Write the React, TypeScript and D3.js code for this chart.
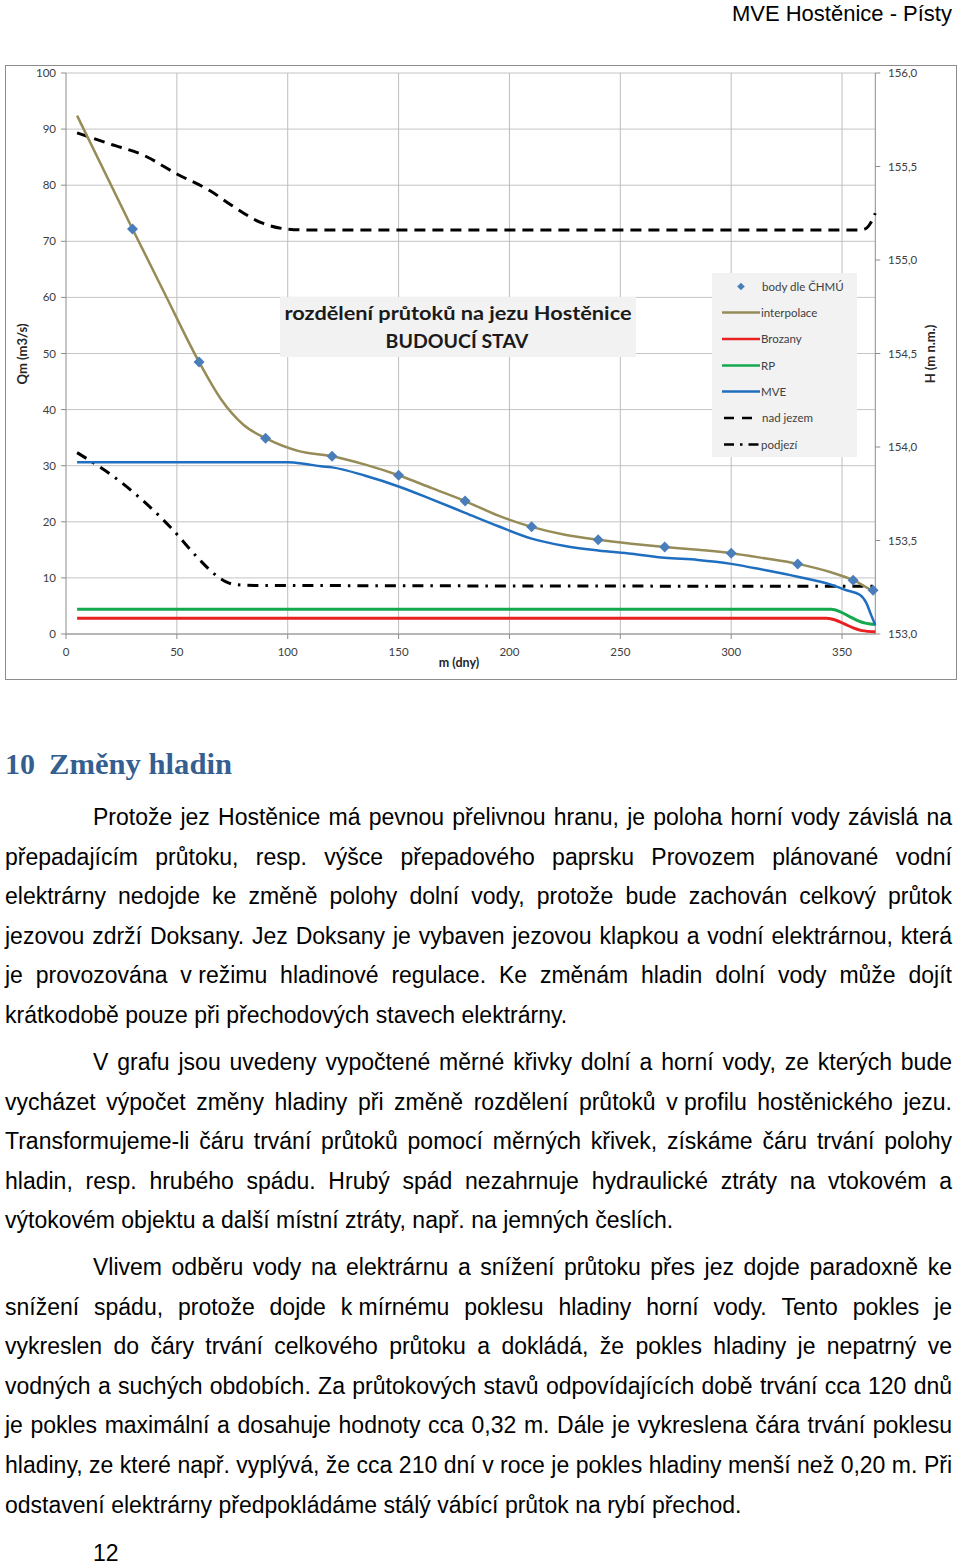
import React, { useMemo } from 'react';
import * as d3 from 'd3';

// ---------- chart data ----------
const X_TICKS = [0, 50, 100, 150, 200, 250, 300, 350];
const Q_TICKS = [0, 10, 20, 30, 40, 50, 60, 70, 80, 90, 100];
const H_TICKS = [153.0, 153.5, 154.0, 154.5, 155.0, 155.5, 156.0];

const CHMU_DAYS = [30, 60, 90, 120, 150, 180, 210, 240, 270, 300, 330, 355, 364];
const CHMU_Q = [72.2, 48.5, 34.9, 31.7, 28.3, 23.7, 19.1, 16.8, 15.5, 14.4, 12.5, 9.6, 7.8];

const INTERP_DAYS = [5, 30, 45, 60, 70, 80, 90, 105, 120, 135, 150, 165, 180, 195, 210, 225, 240, 255, 270, 285, 300, 315, 330, 345, 355, 364];
const INTERP_Q = [92.4, 72.2, 60.3, 48.5, 41.8, 37.3, 34.9, 32.6, 31.7, 30.2, 28.3, 26.0, 23.7, 21.1, 19.1, 17.7, 16.8, 16.1, 15.5, 15.0, 14.4, 13.5, 12.5, 11.0, 9.6, 7.6];

const MVE_DAYS = [5, 100, 108, 115, 120, 135, 150, 165, 180, 195, 210, 225, 240, 255, 270, 285, 300, 315, 330, 345, 352, 358, 361, 363, 365];
const MVE_Q = [30.6, 30.6, 30.3, 29.9, 29.7, 28.2, 26.3, 24.0, 21.6, 19.2, 17.0, 15.7, 14.9, 14.3, 13.6, 13.2, 12.5, 11.4, 10.2, 8.8, 7.8, 7.0, 5.5, 3.5, 1.6];

const BROZANY_DAYS = [5, 343, 347, 351, 355, 359, 365];
const BROZANY_Q = [2.8, 2.8, 2.5, 1.8, 1.1, 0.6, 0.4];

const RP_DAYS = [5, 345, 349, 353, 357, 361, 365];
const RP_Q = [4.4, 4.4, 4.0, 3.2, 2.4, 1.9, 1.7];

const NAD_DAYS = [5, 20, 35, 50, 65, 75, 88, 100, 110, 358, 361, 363, 365];
const NAD_H = [155.68, 155.62, 155.56, 155.46, 155.37, 155.29, 155.2, 155.165, 155.16, 155.16, 155.17, 155.2, 155.25];

const POD_DAYS = [5, 25, 48, 60, 67, 72, 76, 85, 365];
const POD_H = [153.97, 153.81, 153.56, 153.4, 153.32, 153.28, 153.265, 153.26, 153.255];

const LEGEND_LABELS = ['body dle ČHMÚ', 'interpolace', 'Brozany', 'RP', 'MVE', 'nad jezem', 'podjezí'];

// ---------- page text ----------
const HEADER = 'MVE Hostěnice - Písty';
const HEADING_NUM = '10';
const HEADING_TEXT = 'Změny hladin';
const P1 = [
  'Protože jez Hostěnice má pevnou přelivnou hranu, je poloha horní vody závislá na',
  'přepadajícím průtoku, resp. výšce přepadového paprsku Provozem plánované vodní',
  'elektrárny nedojde ke změně polohy dolní vody, protože bude zachován celkový průtok',
  'jezovou zdrží Doksany. Jez Doksany je vybaven jezovou klapkou a vodní elektrárnou, která',
  'je provozována v\u00a0režimu hladinové regulace. Ke změnám hladin dolní vody může dojít',
  'krátkodobě pouze při přechodových stavech elektrárny.',
];
const P2 = [
  'V grafu jsou uvedeny vypočtené měrné křivky dolní a horní vody, ze kterých bude',
  'vycházet výpočet změny hladiny při změně rozdělení průtoků v\u00a0profilu hostěnického jezu.',
  'Transformujeme-li čáru trvání průtoků pomocí měrných křivek, získáme čáru trvání polohy',
  'hladin, resp. hrubého spádu. Hrubý spád nezahrnuje hydraulické ztráty na vtokovém a',
  'výtokovém objektu a další místní ztráty, např. na jemných česlích.',
];
const P3 = [
  'Vlivem odběru vody na elektrárnu a snížení průtoku přes jez dojde paradoxně ke',
  'snížení spádu, protože dojde k\u00a0mírnému poklesu hladiny horní vody. Tento pokles je',
  'vykreslen do čáry trvání celkového průtoku a dokládá, že pokles hladiny je nepatrný ve',
  'vodných a suchých obdobích. Za průtokových stavů odpovídajících době trvání cca 120 dnů',
  'je pokles maximální a dosahuje hodnoty cca 0,32 m. Dále je vykreslena čára trvání poklesu',
  'hladiny, ze které např. vyplývá, že cca 210 dní v roce je pokles hladiny menší než 0,20 m. Při',
  'odstavení elektrárny předpokládáme stálý vábící průtok na rybí přechod.',
];
const PAGE_NUM = '12';

const BODY_FONT = '"Liberation Sans", Arial, sans-serif';
const CHART_FONT = 'Lato, "Open Sans", sans-serif';
const FS = 23;

function pairs(xs: number[], ys: number[]): [number, number][] {
  return xs.map((d, i) => [d, ys[i]] as [number, number]);
}

export default function App() {
  const x = d3.scaleLinear().domain([0, 365]).range([66, 875.3]);
  const yQ = d3.scaleLinear().domain([0, 100]).range([634, 73]);
  const yH = d3.scaleLinear().domain([153, 156]).range([634, 73]);

  const lineQ = d3.line<[number, number]>().x(d => x(d[0])).y(d => yQ(d[1])).curve(d3.curveMonotoneX);
  const lineH = d3.line<[number, number]>().x(d => x(d[0])).y(d => yH(d[1])).curve(d3.curveMonotoneX);

  const ctx = useMemo(() => {
    const c = document.createElement('canvas').getContext('2d');
    if (c) c.font = `${FS}px "Liberation Sans"`;
    return c;
  }, []);
  const mw = (s: string) => (ctx ? ctx.measureText(s).width : s.length * FS * 0.5);

  const renderPara = (lines: string[], y0: number, key: string) => {
    const step = 39.6;
    const right = 952;
    return lines.map((line, i) => {
      const left = i === 0 ? 93 : 5;
      const y = y0 + i * step;
      const isLast = i === lines.length - 1;
      if (isLast) {
        return (
          <text key={key + i} x={left} y={y} fontFamily={BODY_FONT} fontSize={FS} fill="#000">
            {line}
          </text>
        );
      }
      const words = line.split(' ');
      const widths = words.map(mw);
      const total = widths.reduce((a, b) => a + b, 0);
      const gap = words.length > 1 ? (right - left - total) / (words.length - 1) : 0;
      let cx = left;
      const xs = widths.map(w => {
        const p = cx;
        cx += w + gap;
        return p;
      });
      return (
        <text key={key + i} y={y} fontFamily={BODY_FONT} fontSize={FS} fill="#000" style={{ whiteSpace: 'pre' }}>
          {words.map((w, j) => (
            <tspan key={j} x={xs[j]}>{w}</tspan>
          ))}
        </text>
      );
    });
  };

  const diamond = (cx: number, cy: number, r: number, k: string) => (
    <path key={k} d={`M${cx},${cy - r}L${cx + r},${cy}L${cx},${cy + r}L${cx - r},${cy}Z`} fill="#4A7EBB" />
  );

  const legY = [286.5, 312.5, 339, 365.5, 391.5, 418, 444.5];
  const OLIVE = '#968C57';
  const BLUE = '#1F6EBF';
  const RED = '#E82020';
  const GREEN = '#16A84F';

  return (
    <svg width={960} height={1566} style={{ position: 'absolute', left: 0, top: 0, display: 'block', background: '#fff' }}>
      <rect x={0} y={0} width={960} height={1566} fill="#fff" />
      {/* header */}
      <text x={952} y={20.5} textAnchor="end" fontFamily={BODY_FONT} fontSize={22} fill="#000">{HEADER}</text>

      {/* chart frame */}
      <rect x={5.5} y={65.5} width={951} height={614} fill="#fff" stroke="#8C8C8C" strokeWidth={1} />

      {/* gridlines */}
      {Q_TICKS.map(t => (
        <line key={'hq' + t} x1={66} x2={875.3} y1={yQ(t)} y2={yQ(t)} stroke="#C4C4C4" strokeWidth={1} />
      ))}
      {X_TICKS.filter(t => t > 0).map(t => (
        <line key={'vx' + t} x1={x(t)} x2={x(t)} y1={73} y2={634} stroke="#BDBDBD" strokeWidth={1} />
      ))}
      {/* axes */}
      <line x1={66} x2={66} y1={73} y2={634} stroke="#8C8C8C" />
      <line x1={875.3} x2={875.3} y1={73} y2={634} stroke="#8C8C8C" />
      <line x1={66} x2={875.3} y1={634} y2={634} stroke="#8C8C8C" />
      {Q_TICKS.map(t => (
        <g key={'tq' + t}>
          <line x1={61} x2={66} y1={yQ(t)} y2={yQ(t)} stroke="#8C8C8C" />
          <text x={56} y={yQ(t) + 4} textAnchor="end" fontFamily={CHART_FONT} fontSize={11.5} fill="#404040">{t}</text>
        </g>
      ))}
      {H_TICKS.map(t => (
        <g key={'th' + t}>
          <line x1={875.3} x2={880.3} y1={yH(t)} y2={yH(t)} stroke="#8C8C8C" />
          <text x={888} y={yH(t) + 4} fontFamily={CHART_FONT} fontSize={11.5} fill="#404040">{t.toFixed(1).replace('.', ',')}</text>
        </g>
      ))}
      {X_TICKS.map(t => (
        <g key={'tx' + t}>
          <line x1={x(t)} x2={x(t)} y1={634} y2={639} stroke="#8C8C8C" />
          <text x={x(t)} y={655.5} textAnchor="middle" fontFamily={CHART_FONT} fontSize={11.5} fill="#404040">{t}</text>
        </g>
      ))}
      {/* axis titles */}
      <text transform="translate(27,354) rotate(-90)" textAnchor="middle" fontFamily={CHART_FONT} fontSize={13} fontWeight="bold" fill="#262626">Qm (m3/s)</text>
      <text transform="translate(935,354) rotate(-90)" textAnchor="middle" fontFamily={CHART_FONT} fontSize={13} fontWeight="bold" fill="#262626">H (m n.m.)</text>
      <text x={459} y={666.5} textAnchor="middle" fontFamily={CHART_FONT} fontSize={12.5} fontWeight="bold" fill="#262626">m (dny)</text>

      {/* title box */}
      <rect x={280} y={297} width={356} height={60} fill="#F2F2F2" />
      <text x={458} y={320} textAnchor="middle" fontFamily={CHART_FONT} fontSize={19.5} fontWeight="bold" fill="#1a1a1a" textLength={347} lengthAdjust="spacingAndGlyphs">rozdělení průtoků na jezu Hostěnice</text>
      <text x={457} y={348} textAnchor="middle" fontFamily={CHART_FONT} fontSize={19.5} fontWeight="bold" fill="#1a1a1a">BUDOUCÍ STAV</text>

      {/* series */}
      <path d={lineQ(pairs(BROZANY_DAYS, BROZANY_Q)) || ''} fill="none" stroke={RED} strokeWidth={3} />
      <path d={lineQ(pairs(RP_DAYS, RP_Q)) || ''} fill="none" stroke={GREEN} strokeWidth={3} />
      <path d={lineH(pairs(POD_DAYS, POD_H)) || ''} fill="none" stroke="#000" strokeWidth={3} strokeDasharray="11,7,2.5,7" />
      <path d={lineH(pairs(NAD_DAYS, NAD_H)) || ''} fill="none" stroke="#000" strokeWidth={3} strokeDasharray="11,7" />
      <path d={lineQ(pairs(MVE_DAYS, MVE_Q)) || ''} fill="none" stroke={BLUE} strokeWidth={2.5} />
      <path d={lineQ(pairs(INTERP_DAYS, INTERP_Q)) || ''} fill="none" stroke={OLIVE} strokeWidth={2.5} />
      {CHMU_DAYS.map((d, i) => diamond(x(d), yQ(CHMU_Q[i]), 5.5, 'dm' + i))}

      {/* legend */}
      <rect x={712} y={273} width={145} height={184} fill="#F2F2F2" />
      {diamond(741, legY[0], 3.8, 'legd')}
      <line x1={722} x2={760} y1={legY[1]} y2={legY[1]} stroke={OLIVE} strokeWidth={2.5} />
      <line x1={722} x2={760} y1={legY[2]} y2={legY[2]} stroke={RED} strokeWidth={2.5} />
      <line x1={722} x2={760} y1={legY[3]} y2={legY[3]} stroke={GREEN} strokeWidth={2.5} />
      <line x1={722} x2={760} y1={legY[4]} y2={legY[4]} stroke={BLUE} strokeWidth={2.5} />
      <line x1={724} x2={754} y1={legY[5]} y2={legY[5]} stroke="#000" strokeWidth={2.5} strokeDasharray="10,8" />
      <line x1={724} x2={761} y1={legY[6]} y2={legY[6]} stroke="#000" strokeWidth={2.5} strokeDasharray="10,6,2.5,6" />
      {LEGEND_LABELS.map((l, i) => (
        <text key={'lg' + i} x={i === 0 || i === 5 ? 762 : 761} y={legY[i] + 4} fontFamily={CHART_FONT} fontSize={11.5} fill="#404040">{l}</text>
      ))}

      {/* heading */}
      <text x={5} y={774} fontFamily='"Liberation Serif", "DejaVu Serif", serif' fontSize={30} fontWeight="bold" fill="#365F91">{HEADING_NUM}</text>
      <text x={49} y={774} fontFamily='"Liberation Serif", "DejaVu Serif", serif' fontSize={30} fontWeight="bold" fill="#365F91" textLength={183} lengthAdjust="spacingAndGlyphs">{HEADING_TEXT}</text>

      {/* body text */}
      {renderPara(P1, 825, 'p1-')}
      {renderPara(P2, 1070, 'p2-')}
      {renderPara(P3, 1275, 'p3-')}

      <text x={93} y={1561} fontFamily={BODY_FONT} fontSize={FS} fill="#000">{PAGE_NUM}</text>
    </svg>
  );
}
